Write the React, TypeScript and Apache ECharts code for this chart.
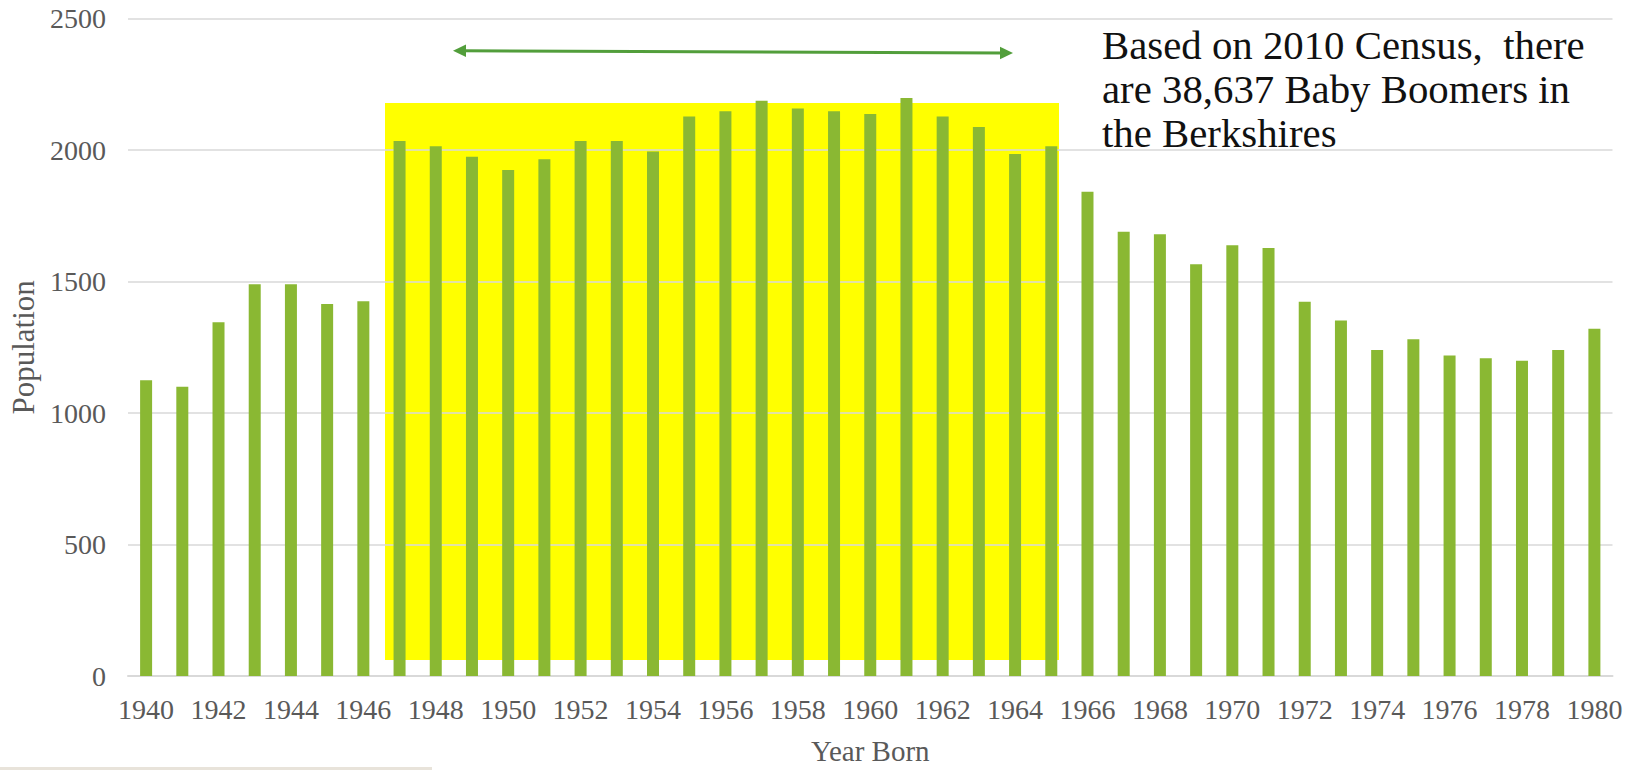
import React, { useEffect, useRef } from "react";
import * as echarts from "echarts";

const years = [
  "1940", "1941", "1942", "1943", "1944", "1945", "1946", "1947", "1948", "1949",
  "1950", "1951", "1952", "1953", "1954", "1955", "1956", "1957", "1958", "1959",
  "1960", "1961", "1962", "1963", "1964", "1965", "1966", "1967", "1968", "1969",
  "1970", "1971", "1972", "1973", "1974", "1975", "1976", "1977", "1978", "1979",
  "1980",
];

const population = [
  1125, 1100, 1345, 1490, 1490, 1415, 1425, 2035, 2015, 1975,
  1925, 1965, 2035, 2035, 1995, 2128, 2148, 2188, 2158, 2148,
  2138, 2198, 2128, 2088, 1985, 2015, 1842, 1690, 1680, 1566,
  1638, 1628, 1423, 1352, 1240, 1281, 1219, 1209, 1199, 1240,
  1321,
];

const yMin = 0;
const yMax = 2500;
const yStep = 500;

const xAxisTitle = "Year Born";
const yAxisTitle = "Population";
const annotationLines = [
  "Based on 2010 Census,  there",
  "are 38,637 Baby Boomers in",
  "the Berkshires",
];

const FONT = "Liberation Serif";

export default function App() {
  const ref = useRef<HTMLDivElement>(null);

  useEffect(() => {
    if (!ref.current) return;
    const chart = echarts.init(ref.current, null, { renderer: "svg" });
    const arrowColor = "#529E3B";
    chart.setOption({
      animation: false,
      backgroundColor: "#ffffff",
      textStyle: { fontFamily: FONT },
      grid: { left: 124.5, right: 20.5, top: 18.7, bottom: 92.7, containLabel: false },
      xAxis: {
        type: "category",
        data: years,
        name: xAxisTitle,
        nameLocation: "middle",
        nameGap: 60,
        nameTextStyle: { color: "#595959", fontSize: 29, fontFamily: FONT },
        axisLine: { show: true, lineStyle: { color: "#d9d9d9", width: 2 } },
        axisTick: { show: false },
        axisLabel: {
          interval: 1,
          color: "#595959",
          fontSize: 28,
          fontFamily: FONT,
          margin: 19,
        },
        splitLine: { show: false },
      },
      yAxis: {
        type: "value",
        min: yMin,
        max: yMax,
        interval: yStep,
        name: yAxisTitle,
        nameLocation: "middle",
        nameGap: 89,
        nameRotate: 90,
        nameTextStyle: { color: "#595959", fontSize: 31, fontFamily: FONT },
        axisLine: { show: false },
        axisTick: { show: false },
        axisLabel: {
          color: "#595959",
          fontSize: 28,
          fontFamily: FONT,
          margin: 22,
          formatter: (v: number) => String(v),
        },
        splitLine: { show: true, lineStyle: { color: "#d9d9d9", width: 1.5 } },
      },
      series: [
        {
          type: "bar",
          data: population,
          barWidth: 12,
          itemStyle: { color: "#8AB833" },
          z: 5,
        },
      ],
      graphic: [
        {
          type: "rect",
          z: -10,
          shape: { x: 385, y: 103, width: 674, height: 557 },
          style: { fill: "#FFFF00" },
          silent: true,
        },
        {
          type: "line",
          shape: { x1: 462, y1: 50.7, x2: 1004, y2: 53 },
          style: { stroke: arrowColor, lineWidth: 3 },
          silent: true,
        },
        {
          type: "polygon",
          shape: { points: [[453, 50.7], [466, 44.5], [466, 57]] },
          style: { fill: arrowColor },
          silent: true,
        },
        {
          type: "polygon",
          shape: { points: [[1013, 53], [1000, 46.8], [1000, 59.3]] },
          style: { fill: arrowColor },
          silent: true,
        },
        {
          type: "text",
          x: 1102,
          y: 23,
          style: {
            text: annotationLines.join("\n"),
            fill: "#111111",
            fontFamily: FONT,
            fontSize: 40.8,
            lineHeight: 44,
            verticalAlign: "top",
          },
          silent: true,
        },
        {
          type: "rect",
          shape: { x: 0, y: 767, width: 432, height: 3 },
          style: { fill: "#E8E3DA" },
          silent: true,
        },
      ],
    });
    return () => chart.dispose();
  }, []);

  return (
    <div
      ref={ref}
      style={{ position: "fixed", left: 0, top: 0, width: 1633, height: 770 }}
    />
  );
}
